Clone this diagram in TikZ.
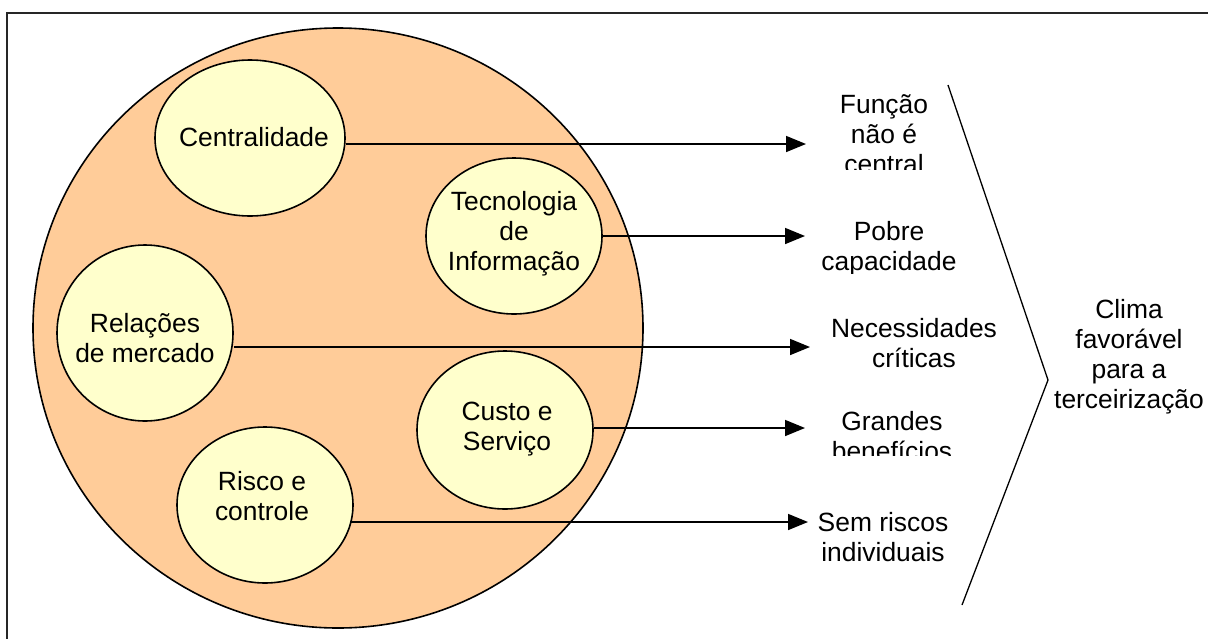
\documentclass[tikz,border=0pt]{standalone}
\usepackage{fontspec}
\setmainfont{Liberation Sans}
\usetikzlibrary{shapes.geometric,arrows.meta}
\definecolor{peach}{HTML}{FFCC99}
\definecolor{cream}{HTML}{FFFFCC}
\begin{document}
\begin{tikzpicture}[x=1pt,y=-1pt,
  txt/.style={font=\fontsize{26.4}{30}\selectfont, align=center, inner sep=0pt},
  bub/.style={ellipse, draw, line width=1.6pt, fill=cream, inner sep=0pt},
  arr/.style={line width=1.6pt, -{Triangle[length=20pt,width=16pt]}},
  frame/.style={line width=2pt, black!85},
  chev/.style={line width=1.3pt}
]
\useasboundingbox (0,0) rectangle (1208,638);
\draw[frame] (7,650) -- (7,13) -- (1220,13);

% big circle
\node[ellipse, draw, line width=1.6pt, fill=peach, minimum width=610pt, minimum height=600pt, inner sep=0pt] (big) at (338,328) {};

% bubbles
\node[bub, minimum width=190pt, minimum height=156pt] (c1) at (250,138) {};
\node[bub, minimum width=176pt, minimum height=156pt] (c2) at (514,236) {};
\node[bub, minimum width=176pt, minimum height=176pt] (c3) at (145,333) {};
\node[bub, minimum width=176pt, minimum height=158pt] (c4) at (505,430) {};
\node[bub, minimum width=176pt, minimum height=156pt] (c5) at (265,505) {};

\node[txt] (t1) at (254,137) {Centralidade};
\node[txt] (t2) at (514,234) {Tecnologia\\de\\Informação};
\node[txt] (t3) at (145,338) {Relações\\de mercado};
\node[txt] (t4) at (507,429) {Custo e\\Serviço};
\node[txt] (t5) at (262,496) {Risco e\\controle};

% arrow end points
\coordinate (e1) at (806,144);
\coordinate (e2) at (805,236);
\coordinate (e3) at (810,347);
\coordinate (e4) at (805,428);
\coordinate (e5) at (808,522);

\draw[arr] (c1.east |- e1) -- (e1);
\draw[arr] (c2.east |- e2) -- (e2);
\draw[arr] (c3.east |- e3) -- (e3);
\draw[arr] (c4.east |- e4) -- (e4);
\draw[arr] (350,522) -- (e5);

% right labels
\begin{scope}
\clip (800,0) rectangle (1000,169);
\node[txt] (f1) at (884,134) {Função\\não é\\central};
\end{scope}
\begin{scope}
\clip (800,180) rectangle (1000,273);
\node[txt] (f2) at (889,249) {Pobre\\capacidade};
\end{scope}
\node[txt] (f3) at (914,343) {Necessidades\\críticas};
\begin{scope}
\clip (800,380) rectangle (1000,455);
\node[txt] (f4) at (892,436) {Grandes\\benefícios};
\end{scope}
\node[txt] (f5) at (883,537) {Sem riscos\\individuais};

% chevron
\coordinate (v1) at (948,85);
\coordinate (v2) at (1048,380);
\coordinate (v3) at (962,605);
\draw[chev] (v1) -- (v2) -- (v3);

\node[txt] (clima) at (1129,357) {Clima\\favorável\\para a\\terceirização};
\end{tikzpicture}
\end{document}
